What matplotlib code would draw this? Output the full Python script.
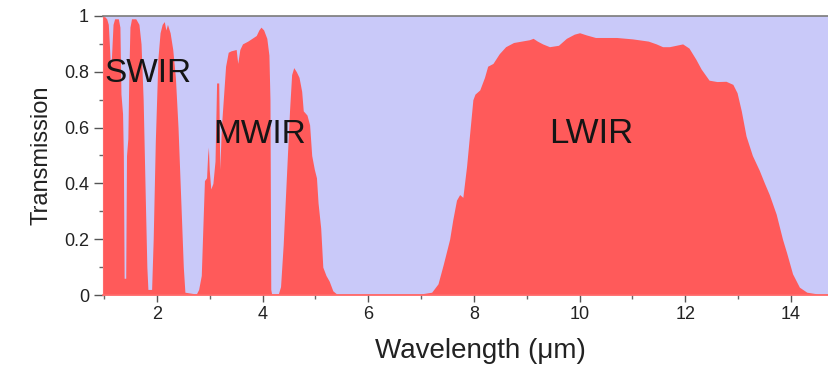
import numpy as np
import matplotlib
matplotlib.use("Agg")
import matplotlib.pyplot as plt
from matplotlib.ticker import MultipleLocator, FuncFormatter

plt.rcParams['font.family'] = ['Liberation Sans', 'DejaVu Sans']

# atmospheric transmission
swir_wl = [0.98, 1.0, 1.05, 1.08, 1.1, 1.12, 1.14, 1.17, 1.2, 1.27, 1.3, 1.32, 1.35,
           1.365, 1.38, 1.41, 1.425, 1.45, 1.47, 1.49, 1.52, 1.6, 1.66, 1.7, 1.74,
           1.78, 1.81, 1.83, 1.9, 1.93, 1.97, 2.02, 2.06, 2.1, 2.14, 2.17, 2.2,
           2.25, 2.3, 2.35, 2.4, 2.45, 2.5, 2.53, 2.7]
swir_t = [0.99, 1.0, 0.99, 0.97, 0.9, 0.82, 0.85, 0.97, 0.99, 0.99, 0.96, 0.72, 0.65,
          0.5, 0.06, 0.06, 0.5, 0.56, 0.8, 0.96, 0.99, 0.99, 0.97, 0.9, 0.7,
          0.35, 0.1, 0.02, 0.02, 0.2, 0.55, 0.85, 0.94, 0.97, 0.98, 0.95, 0.97,
          0.94, 0.88, 0.78, 0.6, 0.35, 0.1, 0.01, 0.005]

mwir_wl = [2.75, 2.79, 2.84, 2.88, 2.9, 2.94, 2.96, 2.975, 2.99, 3.02, 3.06, 3.1,
           3.13, 3.17, 3.19, 3.22, 3.3, 3.35, 3.4, 3.5, 3.53, 3.57, 3.62, 3.72,
           3.8, 3.88, 3.93, 3.97, 4.02, 4.08, 4.12, 4.14, 4.155, 4.17, 4.3, 4.34,
           4.39, 4.45, 4.51, 4.55, 4.59, 4.64, 4.69, 4.74, 4.77, 4.84, 4.89, 4.93,
           4.98, 5.02, 5.05, 5.1, 5.14, 5.2, 5.26, 5.33, 5.4]
mwir_t = [0.005, 0.02, 0.07, 0.3, 0.41, 0.42, 0.5, 0.53, 0.45, 0.38, 0.4, 0.48,
          0.76, 0.76, 0.45, 0.6, 0.82, 0.87, 0.875, 0.88, 0.83, 0.88, 0.9, 0.91,
          0.92, 0.93, 0.95, 0.96, 0.95, 0.92, 0.86, 0.7, 0.02, 0.005, 0.005, 0.03,
          0.18, 0.42, 0.66, 0.79, 0.815, 0.8, 0.78, 0.73, 0.66, 0.645, 0.61, 0.5,
          0.45, 0.42, 0.33, 0.24, 0.1, 0.07, 0.05, 0.015, 0.004]

lwir_wl = [7.0, 7.2, 7.32, 7.42, 7.54, 7.6, 7.67, 7.73, 7.79, 7.86, 7.92, 7.98,
           8.02, 8.11, 8.2, 8.26, 8.36, 8.48, 8.6, 8.75, 8.9, 9.05, 9.12, 9.2,
           9.3, 9.43, 9.6, 9.75, 9.9, 10.0, 10.13, 10.3, 10.7, 11.0, 11.3, 11.45,
           11.57, 11.7, 11.95, 12.07, 12.2, 12.3, 12.45, 12.6, 12.77, 12.9, 12.98,
           13.06, 13.15, 13.27, 13.4, 13.5, 13.59, 13.72, 13.84, 13.92, 14.03,
           14.16, 14.3, 14.5, 14.8]
lwir_t = [0.004, 0.01, 0.04, 0.11, 0.2, 0.27, 0.34, 0.36, 0.35, 0.46, 0.58, 0.70,
          0.72, 0.735, 0.78, 0.82, 0.83, 0.865, 0.89, 0.905, 0.91, 0.915, 0.92, 0.91,
          0.9, 0.89, 0.895, 0.92, 0.935, 0.94, 0.932, 0.923, 0.923, 0.918, 0.91, 0.9,
          0.89, 0.89, 0.9, 0.885, 0.845, 0.81, 0.77, 0.765, 0.766, 0.755, 0.725,
          0.66, 0.57, 0.5, 0.447, 0.40, 0.36, 0.29, 0.2, 0.15, 0.076,
          0.028, 0.01, 0.004, 0.004]

band_names = ['SWIR', 'MWIR', 'LWIR']
band_pos = [(1.0, 0.795), (3.07, 0.575), (9.42, 0.58)]
band_size = [24, 24, 25]

wl = np.array(swir_wl + mwir_wl + lwir_wl)
trans = np.array(swir_t + mwir_t + lwir_t)

fig = plt.figure(figsize=(8.29, 3.67), dpi=100)
ax = fig.add_axes([103 / 829, 1 - 295 / 367, 726 / 829, 279 / 367])
ax.set_facecolor('#c9c9f9')

ax.fill_between(wl, trans, 0, color='#ff5a5a', lw=0)

for name, (x, y), fs in zip(band_names, band_pos, band_size):
    ax.text(x, y, name, fontsize=fs, color='#151515', va='center', ha='left')

ax.set_xlim(0.98, 14.72)
ax.set_ylim(0, 1.0)

ax.xaxis.set_major_locator(MultipleLocator(2))
ax.xaxis.set_minor_locator(MultipleLocator(1))
ax.yaxis.set_major_locator(MultipleLocator(0.2))
ax.yaxis.set_minor_locator(MultipleLocator(0.1))
ax.yaxis.set_major_formatter(FuncFormatter(lambda v, p: f"{v:g}"))

ax.tick_params(axis='both', which='major', colors='#555555', labelcolor='#222222',
               labelsize=13, width=1)
ax.tick_params(axis='x', which='major', length=5, pad=3)
ax.tick_params(axis='y', which='major', length=6.5, pad=3.5)
ax.tick_params(axis='both', which='minor', colors='#666666', length=3, width=1)

ax.spines['top'].set_color('#7a7a7a')
ax.spines['top'].set_linewidth(1.2)
ax.spines['bottom'].set_color('#ff6a6a')
ax.spines['bottom'].set_linewidth(1.2)
ax.spines['left'].set_color('#ff6a6a')
ax.spines['right'].set_visible(False)

ax.set_xlabel('Wavelength (μm)', fontsize=20, color='#222222')
ax.xaxis.set_label_coords(0.52, -0.155)
ax.set_ylabel('Transmission', fontsize=17, color='#222222', labelpad=8)

fig.savefig('out.png', dpi=100)
